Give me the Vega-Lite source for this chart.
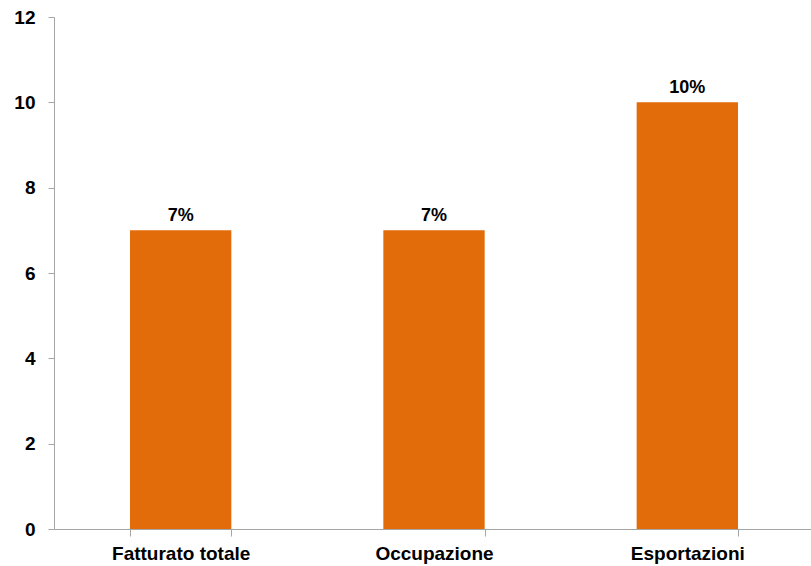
{
  "$schema": "https://vega.github.io/schema/vega-lite/v6.json",
  "autosize": "none",
  "width": 760,
  "height": 512,
  "padding": {"left": 54, "top": 17, "right": 0, "bottom": 37},
  "background": "white",
  "config": {"view": {"stroke": null}, "font": "Liberation Sans"},
  "data": {"values": [
    {"categoria": "Fatturato totale", "valore": 7, "etichetta": "7%"},
    {"categoria": "Occupazione", "valore": 7, "etichetta": "7%"},
    {"categoria": "Esportazioni", "valore": 10, "etichetta": "10%"}
  ]},
  "encoding": {
    "x": {"field": "categoria", "type": "nominal", "sort": null,
      "scale": {"paddingInner": 0.6, "paddingOuter": 0.3},
      "axis": {"title": null, "labelAngle": 0, "labelFont": "Liberation Sans", "labelFontSize": 19, "labelFontWeight": "bold", "labelColor": "#000000", "labelPadding": 8, "domainColor": "#a6a6a6", "tickColor": "#a6a6a6", "tickSize": 7, "tickBand": "extent", "grid": false}},
    "y": {"field": "valore", "type": "quantitative",
      "scale": {"domain": [0, 12], "nice": false},
      "axis": {"title": null, "values": [0, 2, 4, 6, 8, 10, 12], "labelFont": "Liberation Sans", "labelFontSize": 19, "labelFontWeight": "bold", "labelColor": "#000000", "labelPadding": 13, "domainColor": "#a6a6a6", "tickColor": "#a6a6a6", "tickSize": 6, "grid": false}}
  },
  "layer": [
    {"mark": {"type": "bar", "color": "#E36C0A"}},
    {"mark": {"type": "text", "baseline": "alphabetic", "dy": -9, "font": "Liberation Sans", "fontSize": 18, "fontWeight": "bold", "color": "#000000"},
     "encoding": {"text": {"field": "etichetta"}}}
  ]
}
